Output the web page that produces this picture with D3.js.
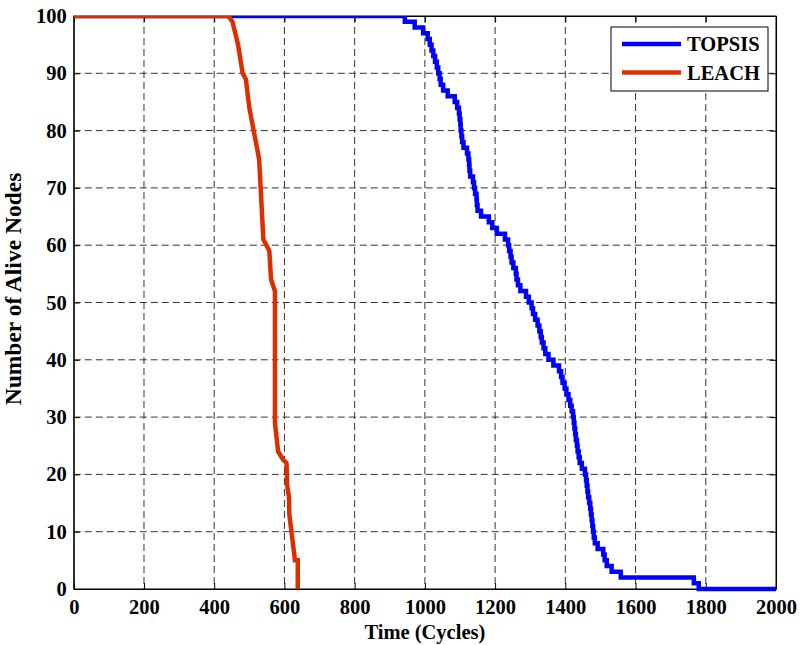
<!DOCTYPE html>
<html>
<head>
<meta charset="utf-8">
<script src="https://cdn.jsdelivr.net/npm/d3@7"></script>
<style>
  body { margin: 0; background: #fff; }
  text { font-family: "Liberation Serif", "Times New Roman", serif; font-weight: bold; fill: #000; }
</style>
</head>
<body>
<div id="chart"></div>
<script>
// LEACH: alive nodes vs. cycles
var leachTime  = [0, 440, 452, 468, 481, 490, 500, 528, 540, 557, 562, 573, 573, 582, 597, 606, 608, 613, 614, 630, 638, 638]
var leachAlive = [100, 100, 99, 95, 90, 89, 84, 75, 61, 59, 54, 52, 29, 24, 22.5, 22, 18, 16, 13, 5, 5, 0]

// TOPSIS: time at which the alive count drops to the given value
var topsisTime = [0, 943, 971, 995, 1008, 1014, 1019, 1024, 1029, 1034, 1038, 1042, 1045, 1052, 1065, 1085,
  1092, 1097, 1099, 1101, 1102, 1104, 1106, 1110, 1120, 1124, 1126, 1127, 1129, 1137, 1140, 1143, 1147,
  1148, 1150, 1160, 1182, 1192, 1205, 1228, 1237, 1240, 1244, 1247, 1252, 1259, 1261, 1265, 1272, 1288,
  1296, 1304, 1308, 1314, 1321, 1326, 1330, 1333, 1338, 1343, 1352, 1366, 1382, 1388, 1392, 1398, 1403,
  1409, 1414, 1418, 1422, 1424, 1426, 1428, 1430, 1433, 1435, 1438, 1441, 1447, 1456, 1459, 1461, 1463,
  1465, 1468, 1471, 1473, 1475, 1477, 1479, 1481, 1484, 1492, 1508, 1512, 1518, 1532, 1558, 1766, 1780, 2000]
var topsisAlive = [100, 99, 98, 97, 96, 95, 94, 93, 92, 91, 90, 89, 88, 87, 86, 85,
  84, 83, 82, 81, 80, 79, 78, 77, 76, 75, 74, 73, 72, 71, 70, 69, 68,
  67, 66, 65, 64, 63, 62, 61, 60, 59, 58, 57, 56, 55, 54, 53, 52, 51,
  50, 49, 48, 47, 46, 45, 44, 43, 42, 41, 40, 39, 38, 37, 36, 35, 34,
  33, 32, 31, 30, 29, 28, 27, 26, 25, 24, 23, 22, 21, 20, 19, 18, 17,
  16, 15, 14, 13, 12, 11, 10, 9, 8, 7, 6, 5, 4, 3, 2, 1, 0, 0]

var xTicks = [0, 200, 400, 600, 800, 1000, 1200, 1400, 1600, 1800, 2000]
var yTicks = [0, 10, 20, 30, 40, 50, 60, 70, 80, 90, 100]
var seriesNames = ["TOPSIS", "LEACH"]
var seriesColors = ["#0000ff", "#dd2e00"]

var W = 801, H = 645
var margin = {left: 73.75, right: 25, top: 16, bottom: 56}
var iw = W - margin.left - margin.right, ih = H - margin.top - margin.bottom

var svg = d3.select("#chart").append("svg").attr("width", W).attr("height", H)
var g = svg.append("g").attr("transform", "translate(" + margin.left + "," + margin.top + ")")

var x = d3.scaleLinear().domain([0, 2000]).range([0, iw])
var y = d3.scaleLinear().domain([0, 100]).range([ih, 0])

svg.append("defs").append("clipPath").attr("id", "clip")
  .append("rect").attr("x", 0).attr("y", 0).attr("width", iw + 3).attr("height", ih + 3)

// grid
var grid = g.append("g").attr("class", "grid")
grid.selectAll("line.gx").data(xTicks.slice(1, -1)).enter().append("line")
  .attr("x1", function(d) { return x(d) }).attr("x2", function(d) { return x(d) })
  .attr("y1", 0).attr("y2", ih)
  .attr("stroke", "#333").attr("stroke-width", 1).attr("stroke-dasharray", "7,4")
grid.selectAll("line.gy").data(yTicks.slice(1, -1)).enter().append("line")
  .attr("y1", function(d) { return y(d) }).attr("y2", function(d) { return y(d) })
  .attr("x1", 0).attr("x2", iw)
  .attr("stroke", "#333").attr("stroke-width", 1).attr("stroke-dasharray", "7,4")

// axes (ticks inward, box on all sides)
var fmt = d3.format("d")
g.append("g").attr("transform", "translate(0," + ih + ")")
  .call(d3.axisBottom(x).tickValues(xTicks).tickFormat(fmt).tickSizeInner(-6).tickSizeOuter(0).tickPadding(10))
g.append("g")
  .call(d3.axisLeft(y).tickValues(yTicks).tickFormat(fmt).tickSizeInner(-6).tickSizeOuter(0).tickPadding(7))
g.append("g").call(d3.axisTop(x).tickValues(xTicks).tickSizeInner(-6).tickSizeOuter(0).tickFormat(""))
g.append("g").attr("transform", "translate(" + iw + ",0)")
  .call(d3.axisRight(y).tickValues(yTicks).tickSizeInner(-6).tickSizeOuter(0).tickFormat(""))
g.selectAll(".tick text").style("font-size", "20.5px").style("font-family", "Liberation Serif").style("font-weight", "bold")
g.selectAll(".domain").attr("stroke", "#000")
g.selectAll(".tick line").attr("stroke", "#000")
g.append("rect").attr("width", iw).attr("height", ih).attr("fill", "none").attr("stroke", "#000").attr("stroke-width", 1)

// lines
var lineStep = d3.line().x(function(d) { return x(d[0]) }).y(function(d) { return y(d[1]) }).curve(d3.curveStepAfter)
var lineLin = d3.line().x(function(d) { return x(d[0]) }).y(function(d) { return y(d[1]) })

var plot = g.append("g").attr("clip-path", "url(#clip)")
plot.append("path").datum(d3.zip(topsisTime, topsisAlive))
  .attr("d", lineStep).attr("fill", "none").attr("stroke", seriesColors[0]).attr("stroke-width", 4.5)
  .attr("stroke-linejoin", "miter")
plot.append("path").datum(d3.zip(leachTime, leachAlive))
  .attr("d", lineLin).attr("fill", "none").attr("stroke", seriesColors[1]).attr("stroke-width", 4.5)

// axis titles
svg.append("text").attr("x", margin.left + x(1000)).attr("y", 639).attr("text-anchor", "middle")
  .style("font-size", "20.5px").text("Time (Cycles)")
svg.append("text").attr("transform", "translate(21,289) rotate(-90)")
  .attr("text-anchor", "middle").style("font-size", "23.5px").text("Number of Alive Nodes")

// legend
var lg = svg.append("g").attr("transform", "translate(611,27)")
lg.append("rect").attr("width", 157).attr("height", 64).attr("fill", "#fff").attr("stroke", "#000").attr("stroke-width", 1)
var items = lg.selectAll("g.item").data(seriesNames).enter().append("g")
  .attr("transform", function(d, i) { return "translate(0," + (17 + i * 28.5) + ")" })
items.append("line").attr("x1", 11).attr("x2", 70).attr("y1", 0).attr("y2", 0)
  .attr("stroke", function(d, i) { return seriesColors[i] }).attr("stroke-width", 4.5)
items.append("text").attr("x", 76).attr("y", 7).style("font-size", "20.5px").text(function(d) { return d })
</script>
</body>
</html>
